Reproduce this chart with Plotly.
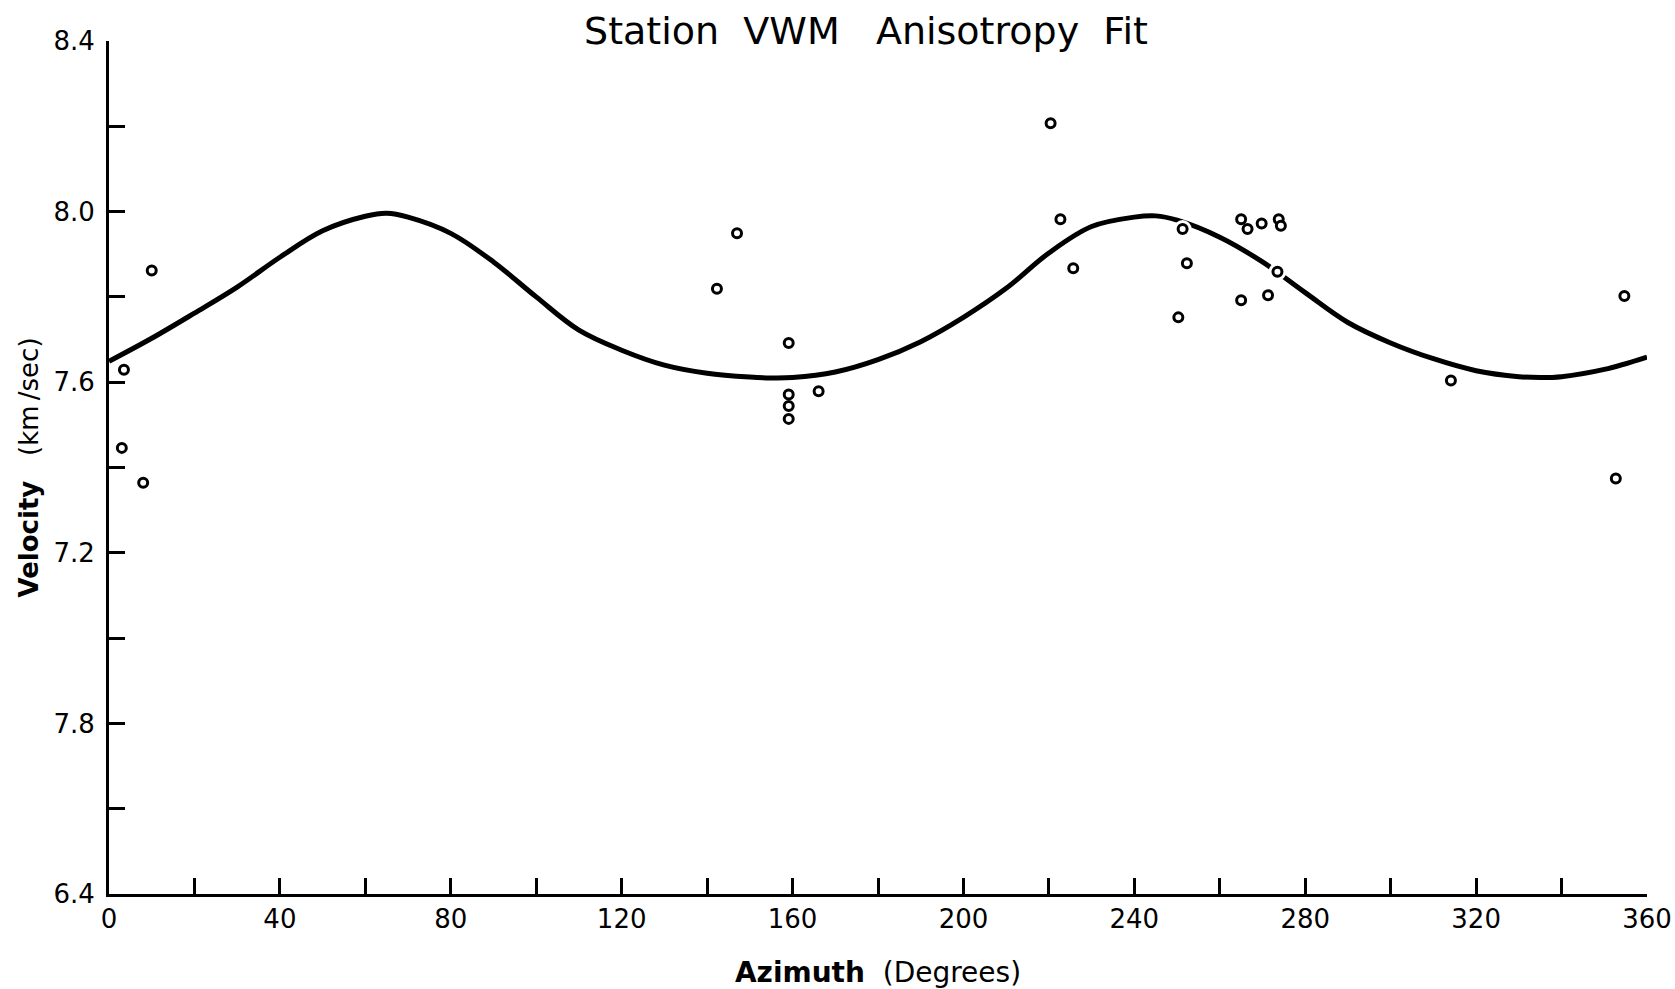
import plotly.graph_objects as go

# Observed apparent velocities by back-azimuth
azimuth_obs = [3.5, 3.0, 8.0, 10.0, 142.3, 147.0, 159.1, 159.1, 159.1, 159.1,
               166.1, 220.4, 222.7, 225.7, 250.3, 251.3, 252.3, 265.0, 266.5,
               265.0, 269.8, 271.3, 273.8, 274.3, 273.5, 314.1, 352.7, 354.7]
velocity_obs = [7.629, 7.446, 7.364, 7.862, 7.819, 7.949, 7.692, 7.571, 7.544,
                7.514, 7.579, 8.207, 7.982, 7.867, 7.752, 7.959, 7.879, 7.982,
                7.959, 7.792, 7.972, 7.804, 7.982, 7.967, 7.859, 7.604, 7.374,
                7.802]

# Fitted anisotropy curve
azimuth_fit = [0, 10, 20, 30, 40, 50, 60, 65, 70, 80, 90, 100, 110, 120, 130,
               140, 150, 155, 160, 170, 180, 190, 200, 210, 220, 230, 240, 245,
               250, 260, 270, 280, 290, 300, 310, 320, 330, 335, 340, 350, 360]
velocity_fit = [7.649, 7.703, 7.762, 7.823, 7.893, 7.955, 7.989, 7.996, 7.987,
                7.949, 7.882, 7.800, 7.722, 7.675, 7.640, 7.621, 7.612, 7.610,
                7.611, 7.624, 7.653, 7.695, 7.752, 7.820, 7.903, 7.965, 7.987,
                7.990, 7.980, 7.940, 7.882, 7.810, 7.740, 7.692, 7.655, 7.627,
                7.613, 7.611, 7.613, 7.630, 7.659]

x_ticks = list(range(0, 361, 20))
x_labels = [str(v) if v % 40 == 0 else "" for v in x_ticks]
y_ticks = [6.4, 6.6, 6.8, 7.0, 7.2, 7.4, 7.6, 7.8, 8.0, 8.2, 8.4]
y_labels = ["6.4", "", "7.8", "", "7.2", "", "7.6", "", "8.0", "", "8.4"]

font_family = "DejaVu Sans, Arial, sans-serif"

fig = go.Figure()
fig.add_trace(go.Scatter(
    x=azimuth_fit, y=velocity_fit, mode="lines",
    line=dict(color="black", width=5, shape="spline", smoothing=1.0),
    hoverinfo="skip", showlegend=False,
))
# white halo so the fit line breaks around each observation
fig.add_trace(go.Scatter(
    x=azimuth_obs, y=velocity_obs, mode="markers",
    marker=dict(symbol="circle", size=18, color="white", line=dict(width=0)),
    hoverinfo="skip", showlegend=False,
))
fig.add_trace(go.Scatter(
    x=azimuth_obs, y=velocity_obs, mode="markers",
    marker=dict(symbol="circle", size=9, color="white",
                line=dict(color="black", width=3)),
    showlegend=False,
))

fig.update_layout(
    width=1675, height=989,
    margin=dict(l=109, r=28, t=41, b=95),
    plot_bgcolor="white", paper_bgcolor="white",
    title=dict(
        text="Station\u00a0\u00a0VWM\u00a0\u00a0\u00a0Anisotropy\u00a0\u00a0Fit",
        x=0.517, xref="container", xanchor="center",
        y=1 - 31 / 989, yref="container", yanchor="middle",
        font=dict(family=font_family, size=38, color="black"),
    ),
)
fig.update_xaxes(
    range=[0, 360], tickvals=x_ticks, ticktext=x_labels,
    showgrid=False, zeroline=False, automargin=False,
    showline=True, linecolor="black", linewidth=2.5,
    ticks="inside", ticklen=16, tickwidth=2.5, tickcolor="black",
    tickfont=dict(family=font_family, size=26, color="black"),
    title=dict(text="<b>Azimuth</b>\u00a0\u00a0(Degrees)", standoff=30,
               font=dict(family=font_family, size=28, color="black")),
)
fig.update_yaxes(
    range=[6.4, 8.4], tickvals=y_ticks, ticktext=y_labels,
    showgrid=False, zeroline=False, automargin=False,
    showline=True, linecolor="black", linewidth=3,
    ticks="inside", ticklen=16, tickwidth=2.5, tickcolor="black",
    ticklabelstandoff=6,
    tickfont=dict(family=font_family, size=26, color="black"),
    title=dict(text="<b>Velocity</b>\u00a0\u00a0\u00a0(km\u2009/sec)", standoff=8,
               font=dict(family=font_family, size=26, color="black")),
)

fig.write_html("out.html")
